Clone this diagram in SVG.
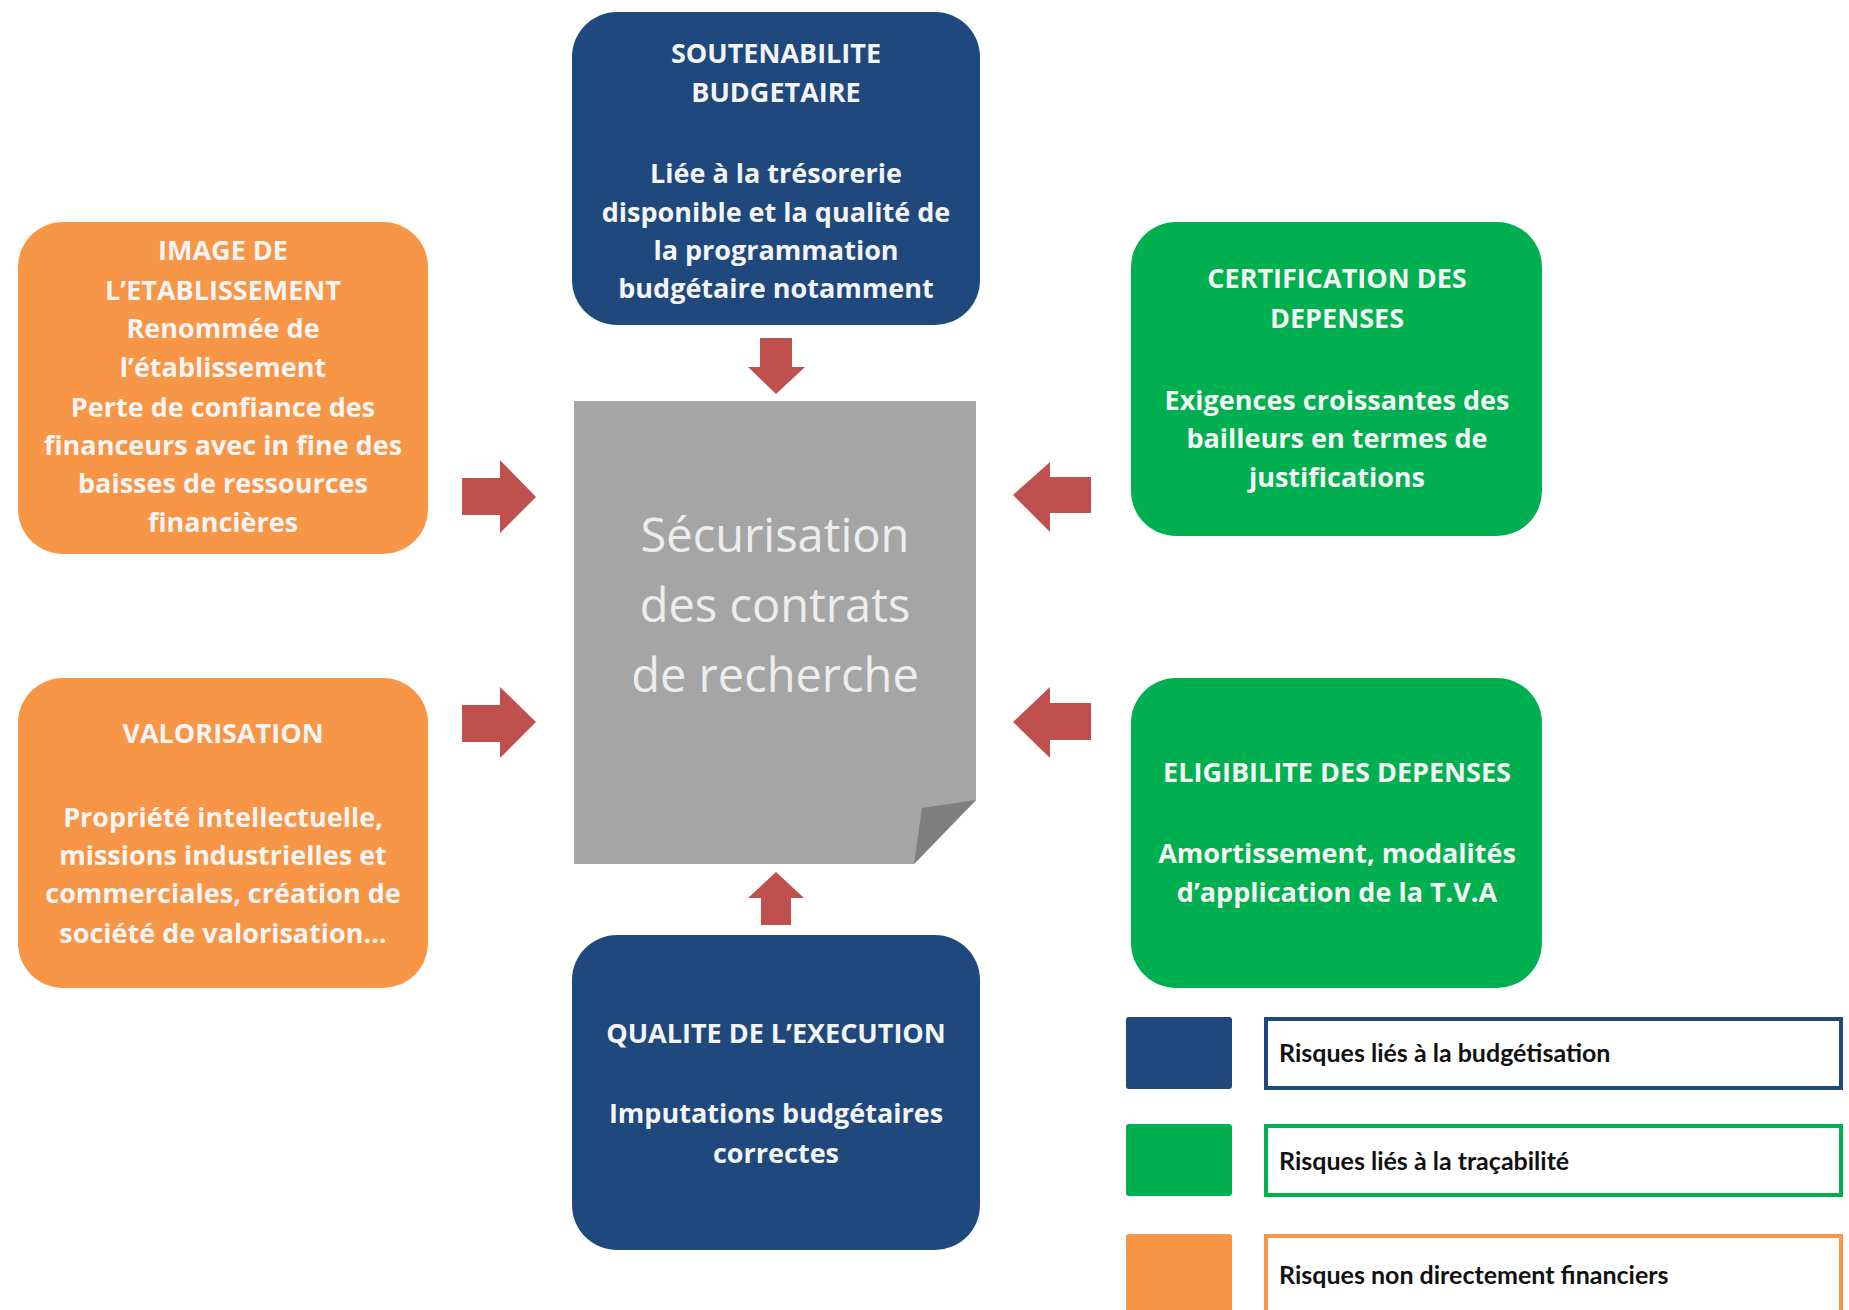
<svg xmlns="http://www.w3.org/2000/svg" width="1849" height="1310" viewBox="0 0 1849 1310">
<style>
.blue{fill:#1f497d}
.green{fill:#00b050}
.orange{fill:#f79646}
.arrow{fill:#c0504d}
.bt{font-family:"Open Sans",Lato,"Liberation Sans",sans-serif;font-weight:bold;font-size:27px;fill:#f4f4f4;text-anchor:middle}
.ct{font-family:"Open Sans",Lato,"Liberation Sans",sans-serif;font-size:47px;fill:#ededed;text-anchor:middle}
.lt{font-family:Lato,"Open Sans","Liberation Sans",sans-serif;font-weight:bold;font-size:25px;fill:#111111}
</style>
<rect width="1849" height="1310" fill="#ffffff"/>

<g id="connectors">
<polygon class="arrow" points="760,338 792,338 792,367 805,367 776,394 748,367 760,367"/>
<polygon class="arrow" points="776,872 804,898 791,898 791,925 761,925 761,898 748,898"/>
<polygon class="arrow" points="462,478 500,478 500,460 536,497 500,533 500,515 462,515"/>
<polygon class="arrow" points="462,705 500,705 500,687 536,722 500,758 500,742 462,742"/>
<polygon class="arrow" points="1091,477 1050,477 1050,462 1013,495 1050,532 1050,513 1091,513"/>
<polygon class="arrow" points="1091,703 1050,703 1050,687 1013,722 1050,758 1050,740 1091,740"/>
</g>

<g id="center">
<polygon points="574,401 976,401 976,800 914,864 574,864" fill="#a5a5a5"/>
<polygon points="976,800 922,808 914,864" fill="#7f7f7f"/>
<text class="ct" x="775" y="552">Sécurisation</text>
<text class="ct" x="775" y="622">des contrats</text>
<text class="ct" x="775" y="692">de recherche</text>
</g>

<g id="soutenabilite">
<rect class="blue" x="572" y="12" width="408" height="313" rx="45"/>
<text class="bt" x="776" y="63">SOUTENABILITE</text>
<text class="bt" x="776" y="102">BUDGETAIRE</text>
<text class="bt" x="776" y="183">Liée à la trésorerie</text>
<text class="bt" x="776" y="222">disponible et la qualité de</text>
<text class="bt" x="776" y="260">la programmation</text>
<text class="bt" x="776" y="298">budgétaire notamment</text>
</g>

<g id="image-etablissement">
<rect class="orange" x="18" y="222" width="410" height="332" rx="45"/>
<text class="bt" x="223" y="260">IMAGE DE</text>
<text class="bt" x="223" y="300">L’ETABLISSEMENT</text>
<text class="bt" x="223" y="338">Renommée de</text>
<text class="bt" x="223" y="377">l’établissement</text>
<text class="bt" x="223" y="417">Perte de confiance des</text>
<text class="bt" x="223" y="455">financeurs avec in fine des</text>
<text class="bt" x="223" y="493">baisses de ressources</text>
<text class="bt" x="223" y="532">financières</text>
</g>

<g id="certification">
<rect class="green" x="1131" y="222" width="411" height="314" rx="45"/>
<text class="bt" x="1337" y="288">CERTIFICATION DES</text>
<text class="bt" x="1337" y="328">DEPENSES</text>
<text class="bt" x="1337" y="410">Exigences croissantes des</text>
<text class="bt" x="1337" y="448">bailleurs en termes de</text>
<text class="bt" x="1337" y="487">justifications</text>
</g>

<g id="valorisation">
<rect class="orange" x="18" y="678" width="410" height="310" rx="45"/>
<text class="bt" x="223" y="743">VALORISATION</text>
<text class="bt" x="223" y="827">Propriété intellectuelle,</text>
<text class="bt" x="223" y="865">missions industrielles et</text>
<text class="bt" x="223" y="903">commerciales, création de</text>
<text class="bt" x="223" y="943">société de valorisation…</text>
</g>

<g id="eligibilite">
<rect class="green" x="1131" y="678" width="411" height="310" rx="45"/>
<text class="bt" x="1337" y="782">ELIGIBILITE DES DEPENSES</text>
<text class="bt" x="1337" y="863">Amortissement, modalités</text>
<text class="bt" x="1337" y="902">d’application de la T.V.A</text>
</g>

<g id="qualite">
<rect class="blue" x="572" y="935" width="408" height="315" rx="45"/>
<text class="bt" x="776" y="1043">QUALITE DE L’EXECUTION</text>
<text class="bt" x="776" y="1123">Imputations budgétaires</text>
<text class="bt" x="776" y="1163">correctes</text>
</g>

<g id="legend">
<rect class="blue" x="1126" y="1017" width="106" height="72" rx="3"/>
<rect x="1266" y="1019" width="575" height="69" fill="#ffffff" stroke="#1f497d" stroke-width="4"/>
<text class="lt" x="1279" y="1062">Risques liés à la budgétisation</text>
<rect class="green" x="1126" y="1124" width="106" height="72" rx="3"/>
<rect x="1266" y="1126" width="575" height="69" fill="#ffffff" stroke="#00b050" stroke-width="4"/>
<text class="lt" x="1279" y="1170">Risques liés à la traçabilité</text>
<rect class="orange" x="1126" y="1234" width="106" height="90" rx="3"/>
<rect x="1266" y="1236" width="575" height="90" fill="#ffffff" stroke="#f79646" stroke-width="4"/>
<text class="lt" x="1279" y="1284">Risques non directement financiers</text>
</g>
</svg>
